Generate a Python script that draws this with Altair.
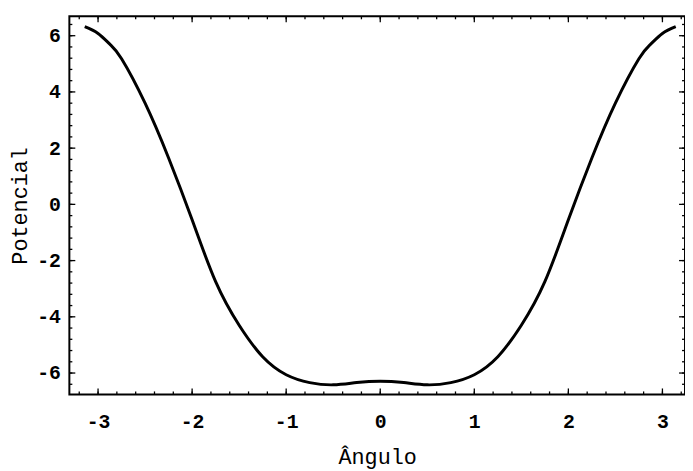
import altair as alt
import pandas as pd

# curve (symmetric about 0)
angulo = [-3.1416, -3.0, -2.875, -2.75, -2.5, -2.25, -2.0, -1.75, -1.5, -1.25, -1.0,
          -0.75, -0.5, -0.25, 0.0,
          0.25, 0.5, 0.75,
          1.0, 1.25, 1.5, 1.75, 2.0, 2.25, 2.5, 2.75, 2.875, 3.0, 3.1416]
potencial = [6.32, 6.08, 5.7, 5.18, 3.6, 1.65, -0.55, -2.75, -4.3, -5.42, -6.06,
             -6.34, -6.42, -6.34, -6.29,
             -6.34, -6.42, -6.34,
             -6.06, -5.42, -4.3, -2.75, -0.55, 1.65, 3.6, 5.18, 5.7, 6.08, 6.32]

x_major = [-3, -2, -1, 0, 1, 2, 3]
x_minor = [round(-3.2 + 0.2 * i, 1) for i in range(33)]
y_major = [-6, -4, -2, 0, 2, 4, 6]
y_minor = [round(-6.4 + 0.4 * i, 1) for i in range(33)]

W, H = 622, 382
XDOM = [-3.305, 3.24]
YDOM = [-6.76, 6.69]
FONT = "Liberation Mono"

xs = alt.Scale(domain=XDOM, nice=False, zero=False)
ys = alt.Scale(domain=YDOM, nice=False, zero=False)

curve_df = pd.DataFrame({"a": angulo, "p": potencial})

curve = alt.Chart(curve_df).mark_line(
    color="black", strokeWidth=3, interpolate="natural", clip=True
).encode(
    x=alt.X("a:Q", scale=xs, title="Ângulo",
            axis=alt.Axis(values=x_major, ticks=False, domain=False, grid=False,
                          labelFont=FONT, labelFontSize=20, labelFontWeight="bold",
                          labelColor="black", labelPadding=17,
                          labelExpr="'' + datum.value",
                          titleFont=FONT, titleFontSize=22, titleFontWeight="normal",
                          titleColor="black", titlePadding=16)),
    y=alt.Y("p:Q", scale=ys, title="Potencial",
            axis=alt.Axis(values=y_major, ticks=False, domain=False, grid=False,
                          labelFont=FONT, labelFontSize=20, labelFontWeight="bold",
                          labelColor="black", labelPadding=9,
                          labelExpr="'' + datum.value",
                          titleFont=FONT, titleFontSize=22, titleFontWeight="normal",
                          titleColor="black", titlePadding=5)),
)

def xticks(vals, length):
    df = pd.DataFrame({"t": vals})
    base = alt.Chart(df)
    bottom = base.mark_rule(color="black", strokeWidth=1.3).encode(
        x=alt.X("t:Q", scale=xs), y=alt.value(H), y2=alt.value(H - length))
    top = base.mark_rule(color="black", strokeWidth=1.3).encode(
        x=alt.X("t:Q", scale=xs), y=alt.value(0), y2=alt.value(length))
    return [bottom, top]

def yticks(vals, length):
    df = pd.DataFrame({"t": vals})
    base = alt.Chart(df)
    left = base.mark_rule(color="black", strokeWidth=1.3).encode(
        y=alt.Y("t:Q", scale=ys), x=alt.value(0), x2=alt.value(length))
    right = base.mark_rule(color="black", strokeWidth=1.3).encode(
        y=alt.Y("t:Q", scale=ys), x=alt.value(W), x2=alt.value(W - length))
    return [left, right]

layers = [curve] + xticks(x_major, 6) + xticks(x_minor, 3) + yticks(y_major, 6) + yticks(y_minor, 3)

chart = alt.layer(*layers).properties(
    width=W, height=H,
    padding={"left": 62, "top": 6, "right": 0, "bottom": 75},
    autosize=alt.AutoSizeParams(type="none"),
    background="white",
).configure_view(stroke="black", strokeWidth=2)

chart.save("out.html", embed_options={"renderer": "svg", "actions": False})
